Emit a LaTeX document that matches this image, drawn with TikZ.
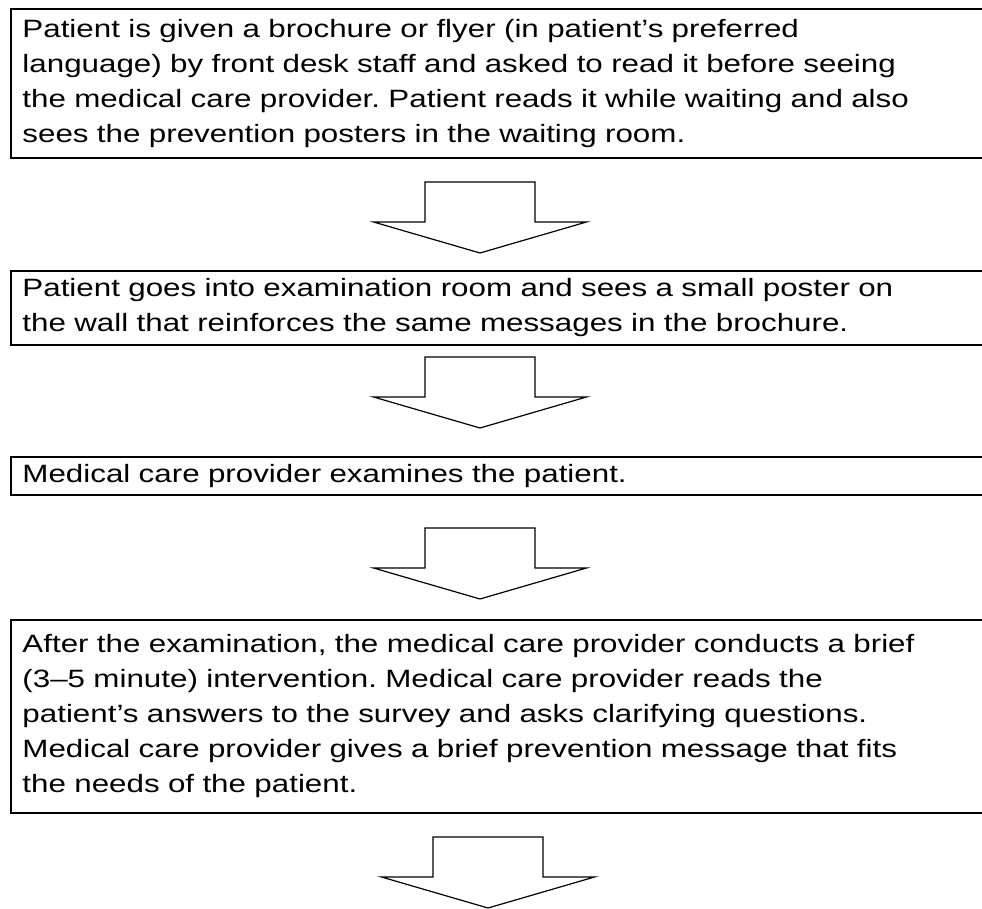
\documentclass[tikz,border=0pt]{standalone}
\usepackage{fontspec}
\setmainfont{Liberation Sans}[FakeStretch=1.25]
\usetikzlibrary{positioning}
\frenchspacing

\tikzset{
  stepbox/.style={draw, line width=1.5pt, rectangle, anchor=north west,
    align=left, text width=760pt, inner xsep=8.6pt, inner ysep=0pt,
    font=\fontsize{18.8pt}{26.25pt}\selectfont},
  downarrow/.pic={
    \draw[line width=0.9pt, line join=miter]
      (-55,0) -- (55,0) -- (55,40) -- (106.5,40) -- (0,71)
      -- (-106.5,40) -- (-55,40) -- cycle;
  }
}

\begin{document}
\begin{tikzpicture}[x=0.75pt, y=-0.75pt]
	\useasboundingbox (0,0) rectangle (982,909);
	% the four steps
	\node[stepbox, minimum height=111.75pt] (b1) at (10,8)
	  {Patient is given a brochure or flyer (in patient’s preferred\\
	   language) by front desk staff and asked to read it before seeing\\
	   the medical care provider. Patient reads it while waiting and also\\
	   sees the prevention posters in the waiting room.};
	\node[stepbox, minimum height=55.5pt] (b2) at (10,270)
	  {Patient goes into examination room and sees a small poster on\\
	   the wall that reinforces the same messages in the brochure.};
	\node[stepbox, minimum height=28.5pt] (b3) at (10,456)
	  {Medical care provider examines the patient.};
	\node[stepbox, minimum height=144.75pt] (b4) at (10,619)
	  {After the examination, the medical care provider conducts a brief\\
	   (3–5 minute) intervention. Medical care provider reads the\\
	   patient’s answers to the survey and asks clarifying questions.\\
	   Medical care provider gives a brief prevention message that fits\\
	   the needs of the patient.};
	% block arrows between the steps
	\pic (a1) at (480,182) {downarrow};
	\pic (a2) at (480,357) {downarrow};
	\pic (a3) at (480,528) {downarrow};
	\pic (a4) at (488,837) {downarrow};
\end{tikzpicture}
\end{document}
